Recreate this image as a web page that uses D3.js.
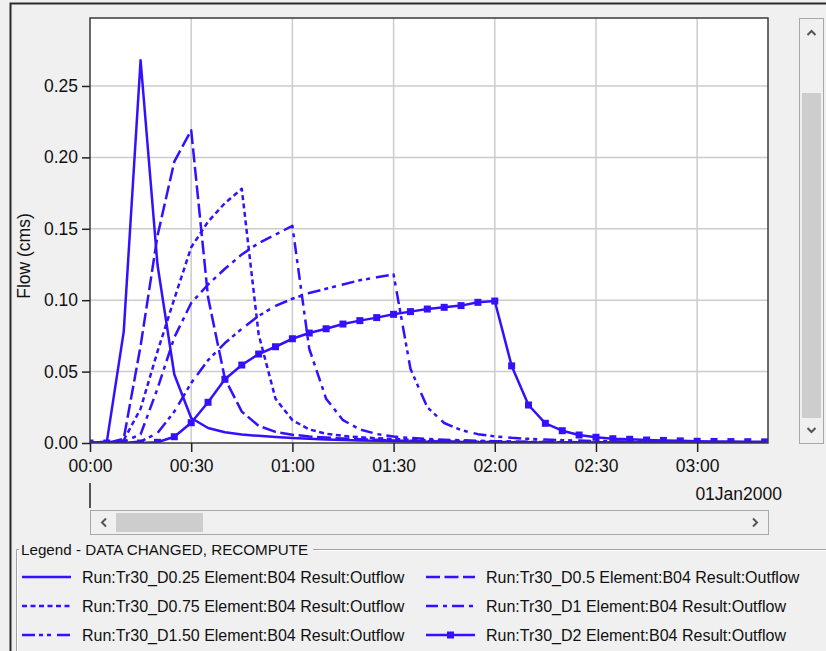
<!DOCTYPE html>
<html>
<head>
<meta charset="utf-8">
<script src="https://cdn.jsdelivr.net/npm/d3@7"></script>
<style>
  body { margin: 0; background: #f0f0f0; }
  svg { display: block; font-family: "Liberation Sans", Arial, sans-serif; }
</style>
</head>
<body>
<svg id="chart"></svg>
<script>
// temps en minutes depuis 01Jan2000 00:00 (pas de 5 min)
const minutes = [
  0, 5, 10, 15, 20, 25, 30, 35, 40, 45,
  50, 55, 60, 65, 70, 75, 80, 85, 90, 95,
  100, 105, 110, 115, 120, 125, 130, 135, 140, 145,
  150, 155, 160, 165, 170, 175, 180, 185, 190, 195,
  200
];

// débits (cms)
const d025 = [
  0, 0.001, 0.078, 0.268, 0.125, 0.048, 0.0175, 0.0105, 0.0075, 0.006,
  0.005, 0.0042, 0.0035, 0.003, 0.0025, 0.0021, 0.0018, 0.0015, 0.0013, 0.0011,
  0.0009, 0.0008, 0.0007, 0.0006, 0.0005, 0.0004, 0.0004, 0.0003, 0.0003, 0.0002,
  0.0002, 0.0002, 0.0002, 0.0001, 0.0001, 0.0001, 0.0001, 0.0001, 0.0001, 0.0001,
  0.0001
];
const d05 = [
  0, 0, 0.003, 0.068, 0.145, 0.197, 0.219, 0.102, 0.045, 0.022,
  0.012, 0.0078, 0.0058, 0.0046, 0.0038, 0.0031, 0.0026, 0.0022, 0.0018, 0.0015,
  0.0013, 0.0011, 0.0009, 0.0008, 0.0007, 0.0006, 0.0005, 0.0004, 0.0004, 0.0003,
  0.0003, 0.0002, 0.0002, 0.0002, 0.0002, 0.0001, 0.0001, 0.0001, 0.0001, 0.0001,
  0.0001
];
const d075 = [
  0, 0, 0.002, 0.024, 0.064, 0.101, 0.137, 0.155, 0.168, 0.178,
  0.076, 0.031, 0.016, 0.0095, 0.0065, 0.005, 0.004, 0.0033, 0.0028, 0.0023,
  0.0019, 0.0016, 0.0014, 0.0012, 0.001, 0.0008, 0.0007, 0.0006, 0.0005, 0.0004,
  0.0004, 0.0003, 0.0003, 0.0002, 0.0002, 0.0002, 0.0002, 0.0001, 0.0001, 0.0001,
  0.0001
];
const d1 = [
  0, 0, 0.001, 0.006, 0.038, 0.074, 0.098, 0.111, 0.122, 0.132,
  0.140, 0.146, 0.152, 0.066, 0.031, 0.016, 0.0095, 0.0063, 0.0045, 0.0035,
  0.0028, 0.0023, 0.0019, 0.0016, 0.0013, 0.0011, 0.0009, 0.0008, 0.0007, 0.0006,
  0.0005, 0.0004, 0.0004, 0.0003, 0.0003, 0.0002, 0.0002, 0.0002, 0.0002, 0.0001,
  0.0001
];
const d150 = [
  0, 0, 0, 0.001, 0.007, 0.022, 0.042, 0.058, 0.070, 0.080,
  0.089, 0.096, 0.101, 0.105, 0.108, 0.111, 0.114, 0.116, 0.118, 0.052,
  0.025, 0.014, 0.009, 0.0062, 0.0046, 0.0036, 0.0029, 0.0024, 0.002, 0.0017,
  0.0014, 0.0012, 0.001, 0.0009, 0.0008, 0.0007, 0.0006, 0.0005, 0.0004, 0.0004,
  0.0003
];
const d2 = [
  0, 0, 0, 0, 0.0005, 0.0044, 0.0142, 0.0285, 0.0446, 0.0546,
  0.0623, 0.0674, 0.073, 0.077, 0.080, 0.0833, 0.0857, 0.0878, 0.0901, 0.092,
  0.0938, 0.095, 0.0962, 0.0985, 0.0994, 0.054, 0.0266, 0.0138, 0.0086, 0.0056,
  0.004, 0.003, 0.0026, 0.0021, 0.0018, 0.0015, 0.0012, 0.0011, 0.001, 0.0009,
  0.0008
];

const seriesNames = [
  "Run:Tr30_D0.25 Element:B04 Result:Outflow",
  "Run:Tr30_D0.5 Element:B04 Result:Outflow",
  "Run:Tr30_D0.75 Element:B04 Result:Outflow",
  "Run:Tr30_D1 Element:B04 Result:Outflow",
  "Run:Tr30_D1.50 Element:B04 Result:Outflow",
  "Run:Tr30_D2 Element:B04 Result:Outflow"
];
const seriesValues = [d025, d05, d075, d1, d150, d2];
const yTicks = [0, 0.05, 0.10, 0.15, 0.20, 0.25];

// styles des traits
const dashes = [null, "14,4.5", "5,3.5", "12,5,4,5", "13,4,4,4,4,6", null];
const bleu = "#3311ff";

const W = 826, H = 651;
const pLeft = 90, pRight = 768, pTop = 18, pBottom = 443;

const svg = d3.select("#chart")
  .attr("width", W)
  .attr("height", H);

svg.append("rect")
  .attr("width", W).attr("height", H)
  .attr("fill", "#f0f0f0");

// cadre extérieur
svg.append("path")
  .attr("d", "M10.5,651 V3.5 H826")
  .attr("fill", "none")
  .attr("stroke", "#2a2a2a")
  .attr("stroke-width", 2);

const t0 = Date.UTC(2000, 0, 1, 0, 0);
const toDate = m => new Date(t0 + m * 60000);

const x = d3.scaleUtc()
  .domain([toDate(0), toDate(201)])
  .range([pLeft, pRight]);

const y = d3.scaleLinear()
  .domain([0, 0.2976])
  .range([pBottom, pTop]);

// zone du graphe
svg.append("rect")
  .attr("x", pLeft).attr("y", pTop)
  .attr("width", pRight - pLeft).attr("height", pBottom - pTop)
  .attr("fill", "white");

const xTicks = x.ticks(d3.utcMinute.every(30));

// grille
svg.append("g").selectAll("line")
  .data(xTicks.filter(d => +d !== t0))
  .join("line")
  .attr("x1", d => x(d)).attr("x2", d => x(d))
  .attr("y1", pTop).attr("y2", pBottom)
  .attr("stroke", "#cccccc")
  .attr("stroke-width", 1.5);

svg.append("g").selectAll("line")
  .data(yTicks.filter(d => d > 0))
  .join("line")
  .attr("x1", pLeft).attr("x2", pRight)
  .attr("y1", d => y(d)).attr("y2", d => y(d))
  .attr("stroke", "#cccccc")
  .attr("stroke-width", 1.5);

svg.append("defs").append("clipPath")
  .attr("id", "clip")
  .append("rect")
  .attr("x", pLeft).attr("y", pTop)
  .attr("width", pRight - pLeft).attr("height", pBottom - pTop);

const line = d3.line()
  .x(d => x(toDate(d[0])))
  .y(d => y(d[1]));

const courbes = svg.append("g").attr("clip-path", "url(#clip)");

seriesValues.forEach((vals, i) => {
  const pts = minutes.map((m, k) => [m, vals[k]]);
  courbes.append("path")
    .datum(pts)
    .attr("d", line)
    .attr("fill", "none")
    .attr("stroke", bleu)
    .attr("stroke-width", 2.5)
    .attr("stroke-linejoin", "round")
    .attr("stroke-dasharray", dashes[i]);
  if (i === 5) {
    courbes.selectAll("rect.marque")
      .data(pts)
      .join("rect")
      .attr("class", "marque")
      .attr("x", d => x(toDate(d[0])) - 3.5)
      .attr("y", d => y(d[1]) - 3.5)
      .attr("width", 7).attr("height", 7)
      .attr("fill", bleu);
  }
});

// cadre du graphe
svg.append("rect")
  .attr("x", pLeft).attr("y", pTop)
  .attr("width", pRight - pLeft).attr("height", pBottom - pTop)
  .attr("fill", "none")
  .attr("stroke", "#3a3a3a")
  .attr("stroke-width", 1.5);

// axes
const yAxis = svg.append("g")
  .attr("transform", `translate(${pLeft},0)`)
  .call(d3.axisLeft(y).tickValues(yTicks).tickFormat(d3.format(".2f")).tickSize(8).tickPadding(4));

const xAxis = svg.append("g")
  .attr("transform", `translate(0,${pBottom})`)
  .call(d3.axisBottom(x).tickValues(xTicks).tickFormat(d3.utcFormat("%H:%M")).tickSize(9).tickPadding(8));

[yAxis, xAxis].forEach(g => {
  g.select(".domain").remove();
  g.selectAll(".tick line").attr("stroke", "#222").attr("stroke-width", 1.5);
  g.selectAll(".tick text")
    .attr("fill", "#111")
    .style("font-size", "17.5px")
    .style("font-family", "'Liberation Sans', Arial, sans-serif");
});

svg.append("text")
  .attr("transform", "translate(30,256) rotate(-90)")
  .attr("text-anchor", "middle")
  .attr("fill", "#111")
  .style("font-size", "17.5px")
  .text("Flow (cms)");

// axe des dates
svg.append("line")
  .attr("x1", pLeft).attr("x2", pLeft)
  .attr("y1", 483).attr("y2", 508)
  .attr("stroke", "#222").attr("stroke-width", 1.5);

svg.append("text")
  .attr("x", 782).attr("y", 500)
  .attr("text-anchor", "end")
  .attr("fill", "#111")
  .style("font-size", "17.5px")
  .text("01Jan2000");

// barres de défilement
function chevron(cx, cy, dir) {
  const p = {
    up: `M${cx - 4},${cy + 2} L${cx},${cy - 2} L${cx + 4},${cy + 2}`,
    down: `M${cx - 4},${cy - 2} L${cx},${cy + 2} L${cx + 4},${cy - 2}`,
    left: `M${cx + 2},${cy - 4} L${cx - 2},${cy} L${cx + 2},${cy + 4}`,
    right: `M${cx - 2},${cy - 4} L${cx + 2},${cy} L${cx - 2},${cy + 4}`
  }[dir];
  svg.append("path").attr("d", p)
    .attr("fill", "none").attr("stroke", "#555").attr("stroke-width", 2);
}

svg.append("rect")
  .attr("x", 90.5).attr("y", 510.5).attr("width", 678).attr("height", 24)
  .attr("fill", "#f0f0f0").attr("stroke", "#a8a8a8");
svg.append("rect")
  .attr("x", 116).attr("y", 513).attr("width", 87).attr("height", 19)
  .attr("fill", "#cdcdcd");
chevron(104, 522.5, "left");
chevron(755, 522.5, "right");

svg.append("rect")
  .attr("x", 799.5).attr("y", 18.5).attr("width", 24).attr("height", 425)
  .attr("fill", "#f0f0f0").attr("stroke", "#a8a8a8");
svg.append("rect")
  .attr("x", 802).attr("y", 93).attr("width", 19).attr("height", 325)
  .attr("fill", "#cdcdcd");
chevron(811.5, 33, "up");
chevron(811.5, 430, "down");

// légende
svg.append("path")
  .attr("d", "M16.5,651 V549.5 H19 M313,549.5 H826")
  .attr("fill", "none").attr("stroke", "#a0a0a0");
svg.append("path")
  .attr("d", "M17.5,651 V550.5 H19 M313,550.5 H826")
  .attr("fill", "none").attr("stroke", "#ffffff");

svg.append("text")
  .attr("x", 21).attr("y", 555)
  .attr("fill", "#111")
  .style("font-size", "15.2px")
  .text("Legend - DATA CHANGED, RECOMPUTE");

const legende = svg.append("g").selectAll("g")
  .data(seriesNames)
  .join("g")
  .attr("transform", (d, i) => `translate(${i % 2 === 0 ? 22 : 426},${577 + Math.floor(i / 2) * 29})`);

legende.append("line")
  .attr("x1", 0).attr("x2", 49)
  .attr("y1", 0).attr("y2", 0)
  .attr("stroke", bleu)
  .attr("stroke-width", 2.5)
  .attr("stroke-dasharray", (d, i) => dashes[i]);

legende.filter((d, i) => i === 5)
  .append("rect")
  .attr("x", 21).attr("y", -3.5)
  .attr("width", 7).attr("height", 7)
  .attr("fill", bleu);

legende.append("text")
  .attr("x", 60).attr("y", 0)
  .attr("dy", "0.36em")
  .attr("fill", "#111")
  .style("font-size", "16px")
  .text(d => d);
</script>
</body>
</html>
